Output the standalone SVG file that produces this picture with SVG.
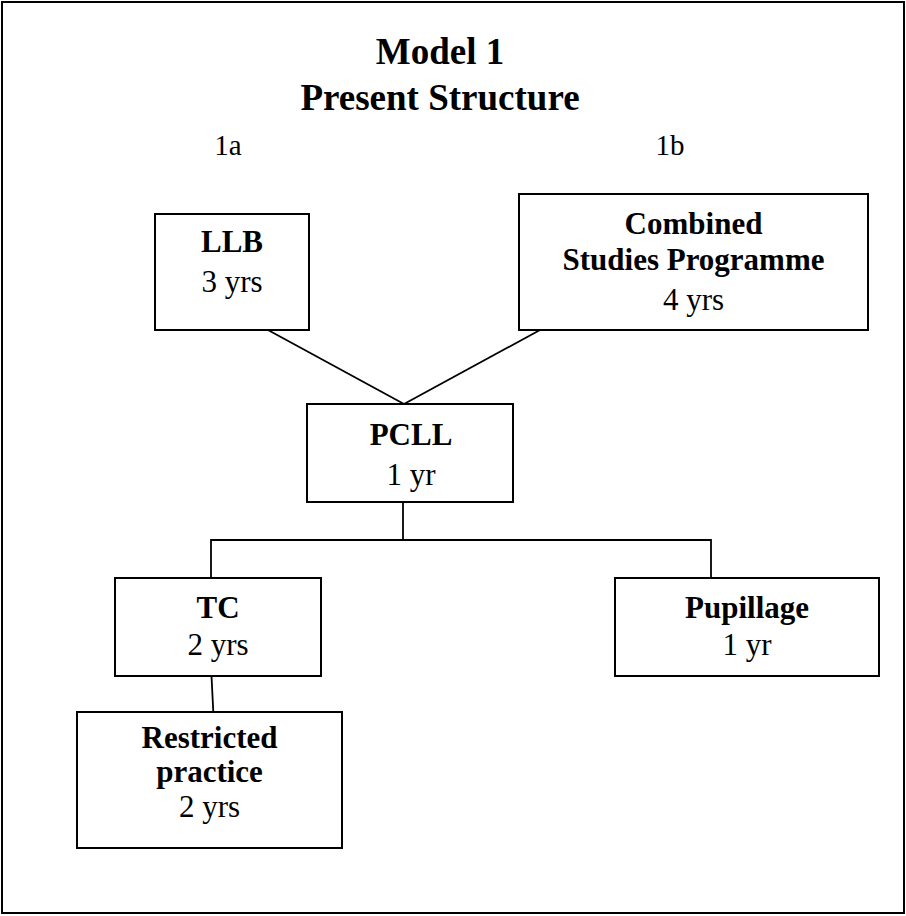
<svg xmlns="http://www.w3.org/2000/svg" width="906" height="916" viewBox="0 0 906 916">
  <style>
    text { font-family: "Liberation Serif", "Times New Roman", serif; fill: #000; text-anchor: middle; }
    .title { font-size: 37px; font-weight: bold; }
    .lbl { font-size: 29px; }
    .b { font-size: 31px; font-weight: bold; }
    .r { font-size: 31px; }
    .box { fill: #fff; stroke: #000; stroke-width: 2; }
    .edge { fill: none; stroke: #000; stroke-width: 1.8; }
  </style>

  <!-- page frame -->
  <rect x="2" y="2" width="902" height="911" fill="#fff" stroke="#000" stroke-width="2"/>

  <!-- heading -->
  <g id="heading">
    <text class="title" x="440" y="64">Model 1</text>
    <text class="title" x="440" y="110">Present Structure</text>
    <text class="lbl" x="228" y="155">1a</text>
    <text class="lbl" x="670" y="155">1b</text>
  </g>

  <!-- connectors -->
  <g id="connectors">
    <line class="edge" x1="268" y1="330" x2="404" y2="404"/>
    <line class="edge" x1="540" y1="330" x2="404" y2="404"/>
    <line class="edge" x1="403" y1="502" x2="403" y2="540"/>
    <polyline class="edge" points="211,578 211,540 711,540 711,578"/>
    <line class="edge" x1="211.5" y1="676" x2="213.3" y2="712"/>
  </g>

  <g id="llb">
    <rect class="box" x="155" y="214" width="154" height="116"/>
    <text class="b" x="232" y="252">LLB</text>
    <text class="r" x="232" y="292">3 yrs</text>
  </g>

  <g id="combined">
    <rect class="box" x="519" y="194" width="349" height="136"/>
    <text class="b" x="693.5" y="234">Combined</text>
    <text class="b" x="693.5" y="270">Studies Programme</text>
    <text class="r" x="693.5" y="310">4 yrs</text>
  </g>

  <g id="pcll">
    <rect class="box" x="307" y="404" width="206" height="98"/>
    <text class="b" x="411" y="445">PCLL</text>
    <text class="r" x="411" y="485">1 yr</text>
  </g>

  <g id="tc">
    <rect class="box" x="115" y="578" width="206" height="98"/>
    <text class="b" x="218" y="618">TC</text>
    <text class="r" x="218" y="655">2 yrs</text>
  </g>

  <g id="pupillage">
    <rect class="box" x="615" y="578" width="264" height="98"/>
    <text class="b" x="747" y="618">Pupillage</text>
    <text class="r" x="747" y="655">1 yr</text>
  </g>

  <g id="restricted">
    <rect class="box" x="77" y="712" width="265" height="136"/>
    <text class="b" x="209.5" y="748">Restricted</text>
    <text class="b" x="209.5" y="782">practice</text>
    <text class="r" x="209.5" y="817">2 yrs</text>
  </g>
</svg>
